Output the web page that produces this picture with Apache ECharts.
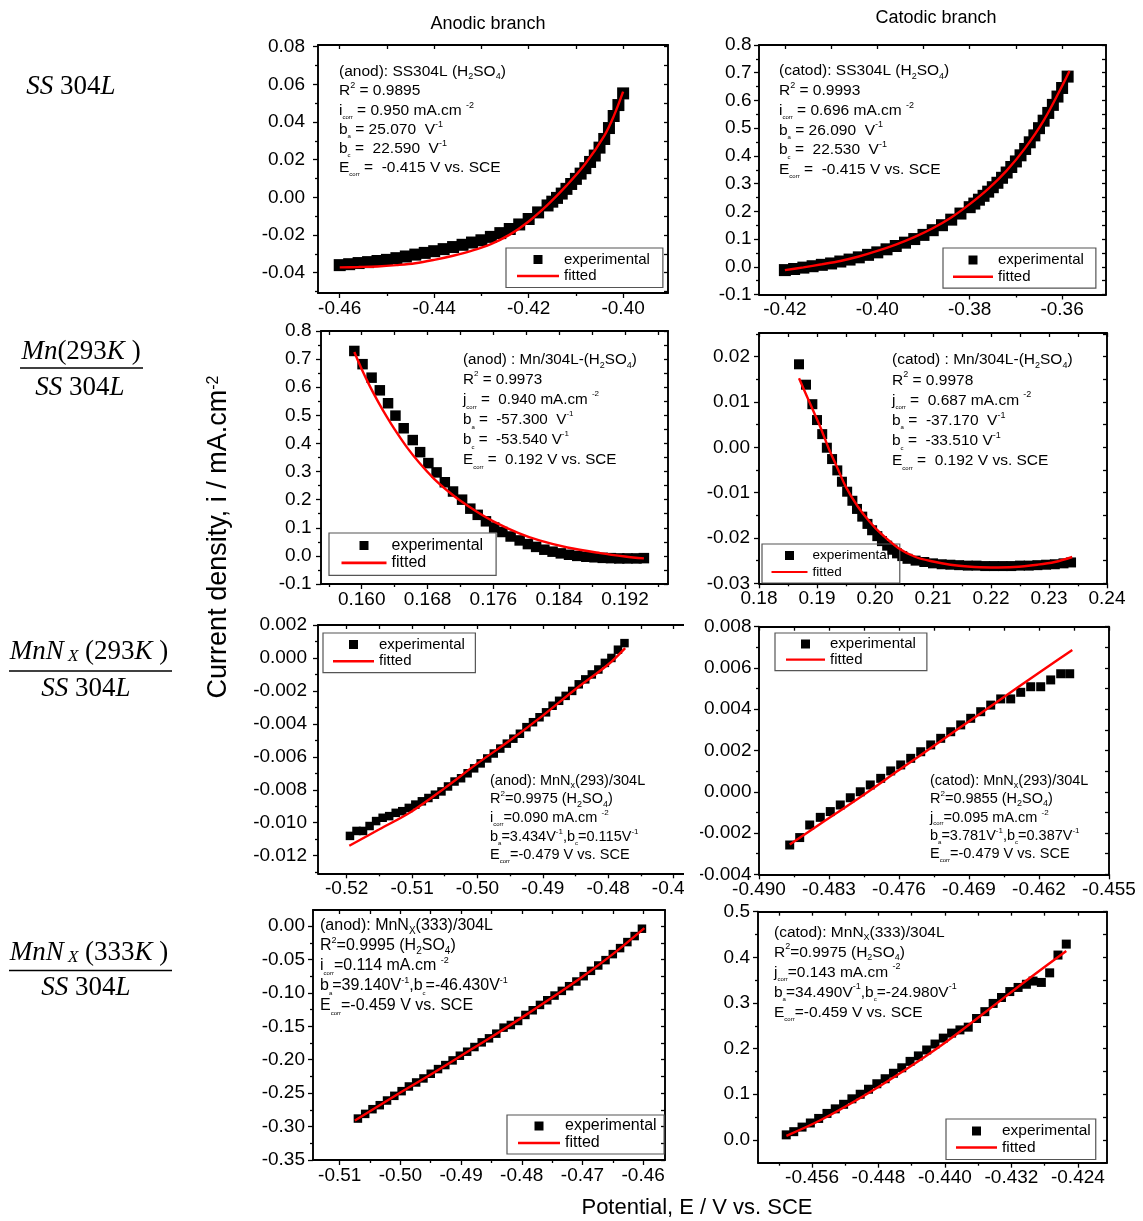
<!DOCTYPE html>
<html>
<head>
<meta charset="utf-8">
<script src="https://cdn.jsdelivr.net/npm/echarts@6/dist/echarts.min.js"></script>
<style>
  html, body { margin: 0; padding: 0; background: #fff; }
  #chart { width: 1143px; height: 1221px; }
</style>
</head>
<body>
<div id="chart"></div>
<script>
// ---------- measured polarisation data (potential in V vs. SCE, current density in mA.cm^-2) ----------

// SS304L, anodic branch
const p1ExpX = [-0.460,-0.458,-0.456,-0.454,-0.452,-0.450,-0.448,-0.446,-0.444,-0.442,-0.440,-0.438,-0.436,-0.434,-0.432,-0.430,-0.428,-0.426,-0.424,-0.422,-0.420,-0.418,-0.416,-0.415,-0.414,-0.413,-0.412,-0.411,-0.410,-0.409,-0.408,-0.407,-0.406,-0.405,-0.404,-0.403,-0.402,-0.401,-0.400];
const p1ExpY = [-0.0360,-0.0355,-0.0349,-0.0344,-0.0338,-0.0332,-0.0323,-0.0314,-0.0304,-0.0295,-0.0286,-0.0275,-0.0264,-0.0252,-0.0240,-0.0228,-0.0210,-0.0190,-0.0168,-0.0144,-0.0115,-0.0080,-0.0043,-0.0023,-0.0003,0.0020,0.0045,0.0071,0.0098,0.0126,0.0155,0.0188,0.0222,0.0264,0.0310,0.0368,0.0432,0.0490,0.0552];
const p1FitX = [-0.460,-0.456,-0.452,-0.448,-0.444,-0.440,-0.436,-0.432,-0.428,-0.424,-0.420,-0.416,-0.412,-0.408,-0.404,-0.402,-0.400];
const p1FitY = [-0.0372,-0.0370,-0.0367,-0.0360,-0.0350,-0.0332,-0.0310,-0.0283,-0.0248,-0.0198,-0.0128,-0.0040,0.0062,0.0178,0.0326,0.0430,0.0561];

// SS304L, cathodic branch
const p2ExpX = [-0.420,-0.418,-0.416,-0.414,-0.412,-0.410,-0.408,-0.406,-0.404,-0.402,-0.400,-0.398,-0.396,-0.394,-0.392,-0.390,-0.388,-0.386,-0.384,-0.382,-0.380,-0.379,-0.378,-0.377,-0.376,-0.375,-0.374,-0.373,-0.372,-0.371,-0.370,-0.369,-0.368,-0.367,-0.366,-0.365,-0.364,-0.363,-0.362,-0.361,-0.360,-0.3588];
const p2ExpY = [-0.012,-0.008,-0.003,0.002,0.007,0.012,0.019,0.026,0.034,0.043,0.052,0.063,0.075,0.087,0.100,0.115,0.132,0.150,0.170,0.192,0.215,0.228,0.242,0.256,0.271,0.287,0.303,0.321,0.340,0.360,0.380,0.402,0.425,0.449,0.474,0.500,0.527,0.555,0.584,0.614,0.645,0.686];
const p2FitX = [-0.420,-0.416,-0.412,-0.408,-0.404,-0.400,-0.396,-0.392,-0.388,-0.384,-0.380,-0.376,-0.372,-0.368,-0.364,-0.360,-0.3584];
const p2FitY = [-0.012,-0.002,0.009,0.021,0.037,0.057,0.080,0.107,0.139,0.178,0.226,0.281,0.347,0.428,0.527,0.652,0.706];

// Mn(293K)/SS304L, anodic branch
const p3ExpX = [0.1591,0.1601,0.1612,0.1622,0.1632,0.1641,0.1651,0.1662,0.1671,0.1681,0.1691,0.1701,0.1711,0.1722,0.1732,0.1741,0.1751,0.1761,0.1771,0.1781,0.1792,0.1802,0.1812,0.1822,0.1832,0.1842,0.1852,0.1862,0.1873,0.1883,0.1893,0.1903,0.1913,0.1923,0.1934,0.1943];
const p3ExpY = [0.729,0.682,0.634,0.589,0.543,0.499,0.454,0.412,0.369,0.330,0.297,0.262,0.229,0.200,0.168,0.146,0.123,0.101,0.085,0.069,0.055,0.042,0.032,0.022,0.015,0.009,0.004,0.000,-0.003,-0.005,-0.007,-0.008,-0.009,-0.009,-0.009,-0.008];
const p3FitX = [0.1591,0.1600,0.1610,0.1620,0.1630,0.1640,0.1655,0.1670,0.1687,0.1705,0.1720,0.1740,0.1760,0.1790,0.1817,0.1850,0.1890,0.1920,0.1943];
const p3FitY = [0.725,0.664,0.603,0.548,0.497,0.450,0.386,0.331,0.277,0.230,0.196,0.157,0.123,0.082,0.054,0.030,0.010,-0.002,-0.009];

// Mn(293K)/SS304L, cathodic branch
const p4ExpX = [0.1869,0.1881,0.1892,0.1900,0.1909,0.1917,0.1926,0.1935,0.1943,0.1952,0.1961,0.1969,0.1978,0.1987,0.1995,0.2004,0.2012,0.2021,0.2030,0.2038,0.2047,0.2056,0.2070,0.2085,0.2100,0.2115,0.2130,0.2145,0.2160,0.2175,0.2190,0.2205,0.2220,0.2235,0.2250,0.2265,0.2280,0.2295,0.2310,0.2325,0.2338];
const p4ExpY = [0.0183,0.0138,0.0095,0.0060,0.0029,-0.0001,-0.0026,-0.0051,-0.0076,-0.0098,-0.0118,-0.0136,-0.0153,-0.0169,-0.0183,-0.0196,-0.0207,-0.0217,-0.0226,-0.0234,-0.0240,-0.0246,-0.0250,-0.0253,-0.0256,-0.0258,-0.0259,-0.0260,-0.0261,-0.0261,-0.0262,-0.0262,-0.0262,-0.0262,-0.0261,-0.0261,-0.0260,-0.0259,-0.0258,-0.0256,-0.0254];
const p4FitX = [0.1869,0.1881,0.1892,0.1905,0.1920,0.1935,0.1950,0.1970,0.1990,0.2010,0.2040,0.2070,0.2100,0.2130,0.2160,0.2200,0.2240,0.2280,0.2310,0.2340];
const p4FitY = [0.0152,0.0117,0.0085,0.0047,-0.0002,-0.0045,-0.0088,-0.0130,-0.0163,-0.0190,-0.0222,-0.0242,-0.0252,-0.0259,-0.0263,-0.0265,-0.0264,-0.0259,-0.0253,-0.0242];

// MnNx(293K)/SS304L, anodic branch
const p5ExpX = [-0.5195,-0.5185,-0.5175,-0.5165,-0.5155,-0.5145,-0.5135,-0.5125,-0.5115,-0.5105,-0.5095,-0.5085,-0.5075,-0.5065,-0.5055,-0.5045,-0.5035,-0.5025,-0.5015,-0.5005,-0.4995,-0.4985,-0.4975,-0.4965,-0.4955,-0.4945,-0.4935,-0.4925,-0.4915,-0.4905,-0.4895,-0.4885,-0.4875,-0.4865,-0.4855,-0.4845,-0.4835,-0.4825,-0.4815,-0.4805,-0.4795,-0.4785,-0.4775];
const p5ExpY = [-0.0108,-0.0105,-0.0105,-0.0102,-0.0099,-0.0097,-0.0096,-0.0094,-0.0093,-0.0091,-0.0089,-0.0087,-0.0085,-0.0083,-0.0081,-0.0078,-0.0075,-0.0073,-0.0070,-0.0067,-0.0064,-0.0061,-0.0058,-0.0055,-0.0052,-0.0049,-0.0046,-0.0042,-0.0039,-0.0036,-0.0033,-0.0029,-0.0026,-0.0023,-0.0020,-0.0016,-0.0013,-0.0010,-0.0007,-0.0003,0.0000,0.0005,0.0009];
const p5FitX = [-0.5196,-0.515,-0.510,-0.505,-0.500,-0.495,-0.490,-0.485,-0.480,-0.4774];
const p5FitY = [-0.0114,-0.0104,-0.0093,-0.0079,-0.0064,-0.0050,-0.0035,-0.0019,-0.0004,0.0006];

// MnNx(293K)/SS304L, cathodic branch
const p6ExpX = [-0.48693,-0.48593,-0.48493,-0.48387,-0.48287,-0.48187,-0.48087,-0.47987,-0.47887,-0.47783,-0.47683,-0.47583,-0.47483,-0.47383,-0.47283,-0.47183,-0.47083,-0.46983,-0.46883,-0.46783,-0.46683,-0.46583,-0.46483,-0.46383,-0.46283,-0.46183,-0.46083,-0.45983,-0.45893];
const p6ExpY = [-0.00258,-0.00222,-0.00161,-0.00124,-0.00096,-0.00064,-0.00029,0.00000,0.00033,0.00065,0.00101,0.00130,0.00162,0.00194,0.00227,0.00259,0.00291,0.00324,0.00356,0.00388,0.00420,0.00450,0.00450,0.00482,0.00509,0.00509,0.00542,0.00572,0.00572];
const p6FitX = [-0.48693,-0.484,-0.480,-0.476,-0.472,-0.468,-0.464,-0.460,-0.45867];
const p6FitY = [-0.00255,-0.00160,-0.00030,0.00105,0.00240,0.00375,0.00510,0.00643,0.00687];

// MnNx(333K)/SS304L, anodic branch
const p7ExpX = [-0.5070,-0.5058,-0.5046,-0.5034,-0.5022,-0.5010,-0.4998,-0.4986,-0.4974,-0.4962,-0.4950,-0.4938,-0.4926,-0.4914,-0.4902,-0.4890,-0.4878,-0.4866,-0.4854,-0.4842,-0.4830,-0.4818,-0.4806,-0.4794,-0.4782,-0.4770,-0.4758,-0.4746,-0.4734,-0.4722,-0.4710,-0.4698,-0.4686,-0.4674,-0.4662,-0.4650,-0.4638,-0.4626,-0.4614,-0.4602];
const p7ExpY = [-0.288,-0.281,-0.274,-0.268,-0.261,-0.254,-0.247,-0.240,-0.234,-0.228,-0.221,-0.214,-0.208,-0.201,-0.194,-0.188,-0.181,-0.174,-0.168,-0.161,-0.152,-0.148,-0.142,-0.133,-0.126,-0.118,-0.111,-0.104,-0.097,-0.090,-0.083,-0.075,-0.067,-0.059,-0.051,-0.042,-0.033,-0.024,-0.015,-0.004];
const p7FitX = [-0.5075,-0.500,-0.495,-0.490,-0.485,-0.480,-0.475,-0.470,-0.465,-0.4598];
const p7FitY = [-0.291,-0.249,-0.222,-0.194,-0.166,-0.137,-0.107,-0.076,-0.042,-0.003];

// MnNx(333K)/SS304L, cathodic branch
const p8ExpX = [-0.4591,-0.4582,-0.4572,-0.4562,-0.4552,-0.4542,-0.4532,-0.4522,-0.4512,-0.4502,-0.4492,-0.4482,-0.4472,-0.4462,-0.4452,-0.4442,-0.4432,-0.4422,-0.4412,-0.4402,-0.4392,-0.4382,-0.4372,-0.4362,-0.4352,-0.4342,-0.4332,-0.4322,-0.4312,-0.4302,-0.4294,-0.4284,-0.4274,-0.4264,-0.4254];
const p8ExpY = [0.011,0.018,0.028,0.037,0.047,0.058,0.068,0.078,0.090,0.100,0.111,0.123,0.134,0.146,0.158,0.172,0.184,0.197,0.210,0.223,0.234,0.241,0.247,0.266,0.281,0.299,0.312,0.325,0.334,0.341,0.348,0.345,0.366,0.405,0.429];
const p8FitX = [-0.45908,-0.455,-0.450,-0.445,-0.440,-0.435,-0.430,-0.4254];
const p8FitY = [0.009,0.043,0.094,0.151,0.213,0.282,0.352,0.414];

// ---------- tick values (major carry labels, minor are unlabeled) ----------
const p1XMajor = [-0.46,-0.44,-0.42,-0.40], p1XMinor = [-0.45,-0.43,-0.41];
const p1YMajor = [-0.04,-0.02,0,0.02,0.04,0.06,0.08], p1YMinor = [-0.05,-0.03,-0.01,0.01,0.03,0.05,0.07];
const p2XMajor = [-0.42,-0.40,-0.38,-0.36], p2XMinor = [-0.41,-0.39,-0.37];
const p2YMajor = [-0.1,0,0.1,0.2,0.3,0.4,0.5,0.6,0.7,0.8], p2YMinor = [-0.05,0.05,0.15,0.25,0.35,0.45,0.55,0.65,0.75];
const p3XMajor = [0.160,0.168,0.176,0.184,0.192], p3XMinor = [0.156,0.164,0.172,0.180,0.188,0.196];
const p3YMajor = p2YMajor, p3YMinor = p2YMinor;
const p4XMajor = [0.18,0.19,0.20,0.21,0.22,0.23,0.24], p4XMinor = [0.185,0.195,0.205,0.215,0.225,0.235];
const p4YMajor = [-0.03,-0.02,-0.01,0,0.01,0.02], p4YMinor = [-0.025,-0.015,-0.005,0.005,0.015,0.025];
const p5XMajor = [-0.52,-0.51,-0.50,-0.49,-0.48,-0.47], p5XMinor = [-0.515,-0.505,-0.495,-0.485,-0.475];
const p5YMajor = [-0.012,-0.010,-0.008,-0.006,-0.004,-0.002,0,0.002], p5YMinor = [-0.013,-0.011,-0.009,-0.007,-0.005,-0.003,-0.001,0.001];
const p6XMajor = [-0.490,-0.483,-0.476,-0.469,-0.462,-0.455], p6XMinor = [-0.4865,-0.4795,-0.4725,-0.4655,-0.4585];
const p6YMajor = [-0.004,-0.002,0,0.002,0.004,0.006,0.008], p6YMinor = [-0.003,-0.001,0.001,0.003,0.005,0.007];
const p7XMajor = [-0.51,-0.50,-0.49,-0.48,-0.47,-0.46], p7XMinor = [-0.505,-0.495,-0.485,-0.475,-0.465];
const p7YMajor = [-0.35,-0.30,-0.25,-0.20,-0.15,-0.10,-0.05,0], p7YMinor = [-0.325,-0.275,-0.225,-0.175,-0.125,-0.075,-0.025];
const p8XMajor = [-0.456,-0.448,-0.440,-0.432,-0.424], p8XMinor = [-0.460,-0.452,-0.444,-0.436,-0.428];
const p8YMajor = [0,0.1,0.2,0.3,0.4,0.5], p8YMinor = [0.05,0.15,0.25,0.35,0.45];

// ---------- fit-parameter notes ----------
const p1Note = ['(anod): SS304L (H{s|2}SO{s|4})','R{p|2} = 0.9895','i{c|corr} = 0.950 mA.cm {p|-2}','b{c|a} = 25.070  V{p|-1}','b{c|c} =  22.590  V{p|-1}','E{c|corr} =  -0.415 V vs. SCE'];
const p2Note = ['(catod): SS304L (H{s|2}SO{s|4})','R{p|2} = 0.9993','i{c|corr} = 0.696 mA.cm {p|-2}','b{c|a} = 26.090  V{p|-1}','b{c|c} =  22.530  V{p|-1}','E{c|corr} =  -0.415 V vs. SCE'];
const p3Note = ['(anod) : Mn/304L-(H{s|2}SO{s|4})','R{p|2} = 0.9973','j{c|corr} =  0.940 mA.cm {p|-2}','b{c|a} =  -57.300  V{p|-1}','b{c|c} =  -53.540 V{p|-1}','E{c|corr} =  0.192 V vs. SCE'];
const p4Note = ['(catod) : Mn/304L-(H{s|2}SO{s|4})','R{p|2} = 0.9978','j{c|corr} =  0.687 mA.cm {p|-2}','b{c|a} =  -37.170  V{p|-1}','b{c|c} =  -33.510 V{p|-1}','E{c|corr} =  0.192 V vs. SCE'];
const p5Note = ['(anod): MnN{s|x}(293)/304L','R{p|2}=0.9975 (H{s|2}SO{s|4})','i{c|corr}=0.090 mA.cm {p|-2}','b{c|a}=3.434V{p|-1},b{c|c}=0.115V{p|-1}','E{c|corr}=-0.479 V vs. SCE'];
const p6Note = ['(catod): MnN{s|x}(293)/304L','R{p|2}=0.9855 (H{s|2}SO{s|4})','j{c|corr}=0.095 mA.cm {p|-2}','b{c|a}=3.781V{p|-1},b{c|c}=0.387V{p|-1}','E{c|corr}=-0.479 V vs. SCE'];
const p7Note = ['(anod): MnN{s|X}(333)/304L','R{p|2}=0.9995 (H{s|2}SO{s|4})','i{c|corr}=0.114 mA.cm {p|-2}','b{c|a}=39.140V{p|-1},b{c|c}=-46.430V{p|-1}','E{c|corr}=-0.459 V vs. SCE'];
const p8Note = ['(catod): MnN{s|X}(333)/304L','R{p|2}=0.9975 (H{s|2}SO{s|4})','j{c|corr}=0.143 mA.cm {p|-2}','b{c|a}=34.490V{p|-1},b{c|c}=-24.980V{p|-1}','E{c|corr}=-0.459 V vs. SCE'];

const seriesNames = ['experimental', 'fitted'];

// ---------- layout of the eight panels ----------
const FONT = "'Liberation Sans', Arial, Helvetica, sans-serif";
const SERIF = "'Liberation Serif', 'Times New Roman', serif";

const panels = [
  { box: [318, 45, 668, 293],      xr: [-0.4646, -0.3905], yr: [-0.0508, 0.0809], xd: 2, yd: 2, ym: 13, sym: 12,
    exp: [p1ExpX, p1ExpY], fit: [p1FitX, p1FitY], ticks: [p1XMajor, p1XMinor, p1YMajor, p1YMinor],
    note: { x: 339, y: 62, fs: 15.5, lh: 19.3, lines: p1Note },
    lg: { x: 506, y: 248, pad: [4, 13, 4, 11], iw: 42, gap: 1.5, fs: 15 } },
  { box: [759, 45, 1106, 294.5],   xr: [-0.4256, -0.3505], yr: [-0.1, 0.8], xd: 2, yd: 1, ym: 7.5, sym: 12,
    exp: [p2ExpX, p2ExpY], fit: [p2FitX, p2FitY], ticks: [p2XMajor, p2XMinor, p2YMajor, p2YMinor],
    note: { x: 779, y: 61, fs: 15.5, lh: 19.8, lines: p2Note },
    lg: { x: 943, y: 248, pad: [4.5, 12, 4, 10], iw: 40, gap: 1.7, fs: 15 } },
  { box: [321, 331, 668, 584],     xr: [0.15505, 0.19723], yr: [-0.1, 0.8], xd: 3, yd: 1, ym: 9.5, sym: 10.5,
    exp: [p3ExpX, p3ExpY], fit: [p3FitX, p3FitY], ticks: [p3XMajor, p3XMinor, p3YMajor, p3YMinor],
    note: { x: 463, y: 350, fs: 15.2, lh: 20, lines: p3Note },
    lg: { x: 329, y: 533, pad: [4.5, 13, 4.5, 12.5], iw: 45, gap: 1.3, fs: 16 } },
  { box: [759, 333, 1107, 583.3],  xr: [0.18, 0.24], yr: [-0.03, 0.0252], xd: 2, yd: 2, ym: 9, sym: 10,
    exp: [p4ExpX, p4ExpY], fit: [p4FitX, p4FitY], ticks: [p4XMajor, p4XMinor, p4YMajor, p4YMinor],
    note: { x: 892, y: 350, fs: 15.5, lh: 20.2, lines: p4Note },
    lg: { x: 762, y: 544, pad: [4.5, 10, 4, 9.5], iw: 36, gap: 2.5, fs: 13.5 } },
  { box: [318, 625, 692, 873.3],   xr: [-0.52439, -0.46717], yr: [-0.01307, 0.002], xd: 2, yd: 3, ym: 11, sym: 8.5,
    exp: [p5ExpX, p5ExpY], fit: [p5FitX, p5FitY], ticks: [p5XMajor, p5XMinor, p5YMajor, p5YMinor],
    note: { x: 490, y: 771.3, fs: 14.5, lh: 18.7, lines: p5Note },
    lg: { x: 323, y: 633, pad: [4, 10.5, 4, 10], iw: 41, gap: 1.7, fs: 15 } },
  { box: [759, 626.7, 1109, 874.3], xr: [-0.49, -0.455], yr: [-0.004, 0.008], xd: 3, yd: 3, ym: 7.5, sym: 9,
    exp: [p6ExpX, p6ExpY], fit: [p6FitX, p6FitY], ticks: [p6XMajor, p6XMinor, p6YMajor, p6YMinor],
    note: { x: 930, y: 771.5, fs: 14.5, lh: 18.4, lines: p6Note },
    lg: { x: 775, y: 633, pad: [3.5, 11, 3.5, 11], iw: 39, gap: 0.7, fs: 15 } },
  { box: [313, 910, 665, 1160],    xr: [-0.5144, -0.4564], yr: [-0.35, 0.024], xd: 2, yd: 2, ym: 8, sym: 8.5,
    exp: [p7ExpX, p7ExpY], fit: [p7FitX, p7FitY], ticks: [p7XMajor, p7XMinor, p7YMajor, p7YMinor],
    note: { x: 320, y: 916, fs: 16, lh: 20, lines: p7Note },
    lg: { x: 507, y: 1115, pad: [3, 7.5, 3, 11], iw: 42, gap: 1, fs: 16 } },
  { box: [758, 911.7, 1107, 1162.7], xr: [-0.4625, -0.4205], yr: [-0.05, 0.5], xd: 3, yd: 1, ym: 8, sym: 9,
    exp: [p8ExpX, p8ExpY], fit: [p8FitX, p8FitY], ticks: [p8XMajor, p8XMinor, p8YMajor, p8YMinor],
    note: { x: 774, y: 922.3, fs: 15.5, lh: 20, lines: p8Note },
    lg: { x: 946, y: 1119, pad: [4, 5, 4, 10], iw: 41, gap: 0.5, fs: 15.5 } }
];

// legend glyphs: a filled square for the measured points, a thin bar for the fit
const squareIcon = 'path://M0 0H10V10H0Z';
const barIcon = 'path://M0 0H40V2.4H0Z';

const pairs = (xs, ys) => xs.map((x, k) => [x, ys[k]]);
const frame = { color: '#000', width: 1.9 };
const tickStyle = { color: '#000', width: 1.3 };
const TICK_FONT = 19;

const grid = [], xAxis = [], yAxis = [], series = [], legend = [], graphic = [];

panels.forEach((P, i) => {
  const [l, t, r, b] = P.box;
  const [xMaj, xMin, yMaj, yMin] = P.ticks;
  grid.push({ left: l, top: t, width: r - l, height: b - t, containLabel: false });

  const label = (dec, margin) => ({
    show: true, color: '#000', fontSize: TICK_FONT, fontFamily: FONT, margin: margin,
    formatter: (v) => Number(v).toFixed(dec)
  });
  const base = (rng) => ({ type: 'value', gridIndex: i, min: rng[0], max: rng[1],
                           splitLine: { show: false }, axisPointer: { show: false } });

  // bottom: labelled major ticks, then unlabelled minor ticks, then mirrored ticks on top
  xAxis.push(Object.assign(base(P.xr), {
    position: 'bottom', axisLine: { show: true, onZero: false, lineStyle: frame },
    axisTick: { show: true, inside: false, length: 5, customValues: xMaj, lineStyle: tickStyle },
    axisLabel: Object.assign(label(P.xd, 6), { customValues: xMaj }) }));
  xAxis.push(Object.assign(base(P.xr), {
    position: 'bottom', axisLine: { show: false, onZero: false },
    axisTick: { show: true, inside: false, length: 3, customValues: xMin, lineStyle: tickStyle },
    axisLabel: { show: false } }));
  xAxis.push(Object.assign(base(P.xr), {
    position: 'top', axisLine: { show: true, onZero: false, lineStyle: frame },
    axisTick: { show: true, inside: true, length: 4, customValues: xMaj.concat(xMin), lineStyle: tickStyle },
    axisLabel: { show: false } }));

  yAxis.push(Object.assign(base(P.yr), {
    position: 'left', axisLine: { show: true, onZero: false, lineStyle: frame },
    axisTick: { show: true, inside: false, length: 5, customValues: yMaj, lineStyle: tickStyle },
    axisLabel: Object.assign(label(P.yd, P.ym), { customValues: yMaj }) }));
  yAxis.push(Object.assign(base(P.yr), {
    position: 'left', axisLine: { show: false, onZero: false },
    axisTick: { show: true, inside: false, length: 3, customValues: yMin, lineStyle: tickStyle },
    axisLabel: { show: false } }));
  yAxis.push(Object.assign(base(P.yr), {
    position: 'right', axisLine: { show: true, onZero: false, lineStyle: frame },
    axisTick: { show: true, inside: true, length: 4, customValues: yMaj.concat(yMin), lineStyle: tickStyle },
    axisLabel: { show: false } }));

  series.push({
    type: 'scatter', name: seriesNames[0], xAxisIndex: 3 * i, yAxisIndex: 3 * i,
    data: pairs(P.exp[0], P.exp[1]), symbol: 'rect', symbolSize: P.sym,
    itemStyle: { color: '#000', opacity: 1 }, z: 3, silent: true
  });
  series.push({
    type: 'line', name: seriesNames[1], xAxisIndex: 3 * i, yAxisIndex: 3 * i,
    data: pairs(P.fit[0], P.fit[1]), smooth: 0.35, symbol: 'none', showSymbol: false,
    lineStyle: { color: '#ff0000', width: 2.4 }, itemStyle: { color: '#ff0000' }, z: 4, silent: true
  });

  legend.push({
    data: [{ name: seriesNames[0], icon: squareIcon }, { name: seriesNames[1], icon: barIcon }],
    orient: 'vertical', left: P.lg.x, top: P.lg.y, padding: P.lg.pad, symbolKeepAspect: true,
    itemWidth: P.lg.iw, itemHeight: 9, itemGap: P.lg.gap, selectedMode: false,
    borderColor: '#555', borderWidth: 1.2, borderRadius: 0,
    textStyle: { color: '#000', fontSize: P.lg.fs, fontFamily: FONT }
  });

  const f = P.note.fs;
  graphic.push({
    type: 'text', x: P.note.x, y: P.note.y, z: 50, silent: true,
    style: {
      text: P.note.lines.join('\n'), fill: '#000', fontSize: f, fontFamily: FONT,
      lineHeight: P.note.lh, align: 'left', verticalAlign: 'top',
      rich: {
        s: { fontSize: Math.round(f * 0.6), fontFamily: FONT, fill: '#000', verticalAlign: 'bottom', lineHeight: P.note.lh },
        p: { fontSize: Math.round(f * 0.55), fontFamily: FONT, fill: '#000', verticalAlign: 'top', lineHeight: 12 },
        c: { fontSize: 6, fontFamily: FONT, fill: '#000', verticalAlign: 'bottom', lineHeight: 8 }
      }
    }
  });
});

// ---------- column titles, axis titles and sample labels ----------
const serifRich = (size) => ({
  i: { fontStyle: 'italic', fontFamily: SERIF, fontSize: size, fill: '#000' },
  n: { fontStyle: 'normal', fontFamily: SERIF, fontSize: size, fill: '#000' },
  x: { fontStyle: 'italic', fontFamily: SERIF, fontSize: Math.round(size * 0.62), fill: '#000', verticalAlign: 'bottom' }
});
const serifText = (x, y, text) => ({
  type: 'text', x: x, y: y, silent: true,
  style: { text: text, align: 'center', verticalAlign: 'middle', fontFamily: SERIF, fontSize: 27, fill: '#000', rich: serifRich(27) }
});
const rule = (x1, x2, y) => ({ type: 'line', silent: true, shape: { x1: x1, y1: y, x2: x2, y2: y }, style: { stroke: '#000', lineWidth: 1.4 } });

graphic.push(
  { type: 'text', x: 488, y: 24, silent: true, style: { text: 'Anodic branch', align: 'center', verticalAlign: 'middle', fontFamily: FONT, fontSize: 18, fill: '#000' } },
  { type: 'text', x: 936, y: 18, silent: true, style: { text: 'Catodic branch', align: 'center', verticalAlign: 'middle', fontFamily: FONT, fontSize: 18, fill: '#000' } },
  { type: 'text', x: 697, y: 1208, silent: true, style: { text: 'Potential, E / V vs. SCE', align: 'center', verticalAlign: 'middle', fontFamily: FONT, fontSize: 22, fill: '#000' } },
  { type: 'text', x: 219, y: 537, rotation: Math.PI / 2, silent: true,
    style: { text: 'Current density, i / mA.cm{p|-2}', align: 'center', verticalAlign: 'middle', fontFamily: FONT, fontSize: 27, fill: '#000',
             rich: { p: { fontSize: 16, fontFamily: FONT, fill: '#000', verticalAlign: 'top' } } } },

  serifText(71, 87, '{i|SS}{n| 304}{i|L}'),

  serifText(81, 352, '{i|Mn}{n|(293}{i|K}{n| )}'),
  rule(20, 143, 368),
  serifText(80, 388, '{i|SS}{n| 304}{i|L}'),

  serifText(89, 652, '{i|MnN}{x| X}{n| (293}{i|K}{n| )}'),
  rule(9, 172, 671),
  serifText(86, 689, '{i|SS}{n| 304}{i|L}'),

  serifText(89, 953, '{i|MnN}{x| X}{n| (333}{i|K}{n| )}'),
  rule(9, 172, 970.5),
  serifText(86, 988, '{i|SS}{n| 304}{i|L}'),

  // blank strip between the two panels of the third row
  { type: 'rect', z: 100, silent: true, shape: { x: 684, y: 612, width: 16, height: 285 }, style: { fill: '#fff' } }
);

const chart = echarts.init(document.getElementById('chart'), null, { renderer: 'canvas' });
chart.setOption({
  backgroundColor: '#fff',
  animation: false,
  grid: grid,
  xAxis: xAxis,
  yAxis: yAxis,
  legend: legend,
  series: series,
  graphic: graphic
});
</script>
</body>
</html>
